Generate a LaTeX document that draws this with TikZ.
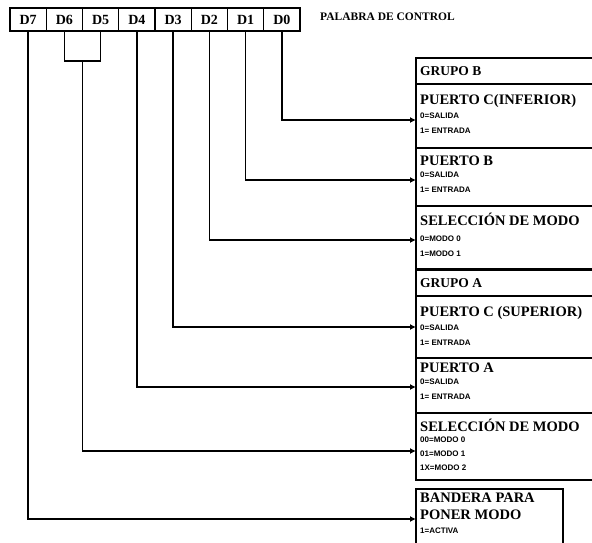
\documentclass[tikz,border=0pt]{standalone}
\usepackage{fontspec}
\setmainfont{Liberation Serif}
\newfontfamily\smallsans{Liberation Sans}
\usetikzlibrary{arrows.meta}
\begin{document}
\begin{tikzpicture}[x=1pt,y=-1pt,
  cell/.style={draw, line width=1.3pt, minimum width=36.25pt, minimum height=23pt, inner sep=0pt, font=\fontsize{14}{14}\selectfont\bfseries},
  head/.style={anchor=west, inner sep=0pt, font=\fontsize{14.5}{14.5}\selectfont\bfseries},
  grp/.style={anchor=west, inner sep=0pt, font=\fontsize{13.5}{13.5}\selectfont\bfseries},
  item/.style={anchor=west, inner sep=0pt, font=\smallsans\fontsize{8}{8}\selectfont\bfseries},
  frame/.style={line width=1.6pt},
  wire/.style={line width=1.6pt},
  conn/.style={line width=1.6pt, -{Latex[length=6pt,width=6pt]}}]
\useasboundingbox (0,0) rectangle (592,542);
\clip (0,0) rectangle (592,542);
% register
\node[cell] (d7) at (28.1,19.5) {D7};
\node[cell] (d6) at (64.4,19.5) {D6};
\node[cell] (d5) at (100.6,19.5) {D5};
\node[cell] (d4) at (136.9,19.5) {D4};
\node[cell] (d3) at (173.1,19.5) {D3};
\node[cell] (d2) at (209.4,19.5) {D2};
\node[cell] (d1) at (245.6,19.5) {D1};
\node[cell] (d0) at (281.9,19.5) {D0};
\node[anchor=west, inner sep=0pt, font=\fontsize{11.5}{11.5}\selectfont\bfseries] (title) at (320,17) {PALABRA DE CONTROL};
% group B frame
\draw[frame] (600,58) -- (416,58) -- (416,269) -- (600,269);
\draw[frame] (416,84) -- (600,84);
\draw[frame] (416,148) -- (600,148);
\draw[frame] (416,206) -- (600,206);
% group A frame
\draw[frame] (600,270) -- (416,270) -- (416,480) -- (600,480);
\draw[frame] (416,296) -- (600,296);
\draw[frame] (416,358) -- (600,358);
\draw[frame] (416,413) -- (600,413);
% flag box
\draw[frame] (416,550) -- (416,489) -- (563,489) -- (563,550);
% texts
\node[grp] (gb) at (420,71) {GRUPO B};
\node[head] (pci) at (420,101) {PUERTO C(INFERIOR)};
\node[item] (pci0) at (420,116) {0=SALIDA};
\node[item] (pci1) at (420,131) {1= ENTRADA};
\node[head] (pb) at (420,161) {PUERTO B};
\node[item] (pb0) at (420,175) {0=SALIDA};
\node[item] (pb1) at (420,190) {1= ENTRADA};
\node[head] (smb) at (420,219) {SELECCIÓN DE MODO};
\node[item] (smb0) at (420,239) {0=MODO 0};
\node[item] (smb1) at (420,254) {1=MODO 1};
\node[grp] (ga) at (420,283) {GRUPO A};
\node[head] (pcs) at (420,313) {PUERTO C (SUPERIOR)};
\node[item] (pcs0) at (420,328) {0=SALIDA};
\node[item] (pcs1) at (420,343) {1= ENTRADA};
\node[head] (pa) at (420,368) {PUERTO A};
\node[item] (pa0) at (420,382) {0=SALIDA};
\node[item] (pa1) at (420,397) {1= ENTRADA};
\node[head] (sma) at (420,425) {SELECCIÓN DE MODO};
\node[item] (sma0) at (420,440) {00=MODO 0};
\node[item] (sma1) at (420,454) {01=MODO 1};
\node[item] (sma2) at (420,468) {1X=MODO 2};
\node[head] (fl1) at (420,498) {BANDERA PARA};
\node[head] (fl2) at (420,515) {PONER MODO};
\node[item] (fl3) at (420,531) {1=ACTIVA};
% targets
\coordinate (t0) at (416,120);
\coordinate (t1) at (416,180);
\coordinate (t2) at (416,240);
\coordinate (t3) at (416,327);
\coordinate (t4) at (416,387);
\coordinate (t65) at (416,451);
\coordinate (t7) at (416,519);
% connectors
\draw[conn] (d0.south) |- (t0);
\draw[conn] (d1.south) |- (t1);
\draw[conn] (d2.south) |- (t2);
\draw[conn] (d3.south) |- (t3);
\draw[conn] (d4.south) |- (t4);
\draw[wire] (d6.south) -- (64.4,61) -| (d5.south);
\coordinate (b65) at (82.5,61);
\draw[conn] (b65) |- (t65);
\draw[conn] (d7.south) |- (t7);
\end{tikzpicture}
\end{document}
